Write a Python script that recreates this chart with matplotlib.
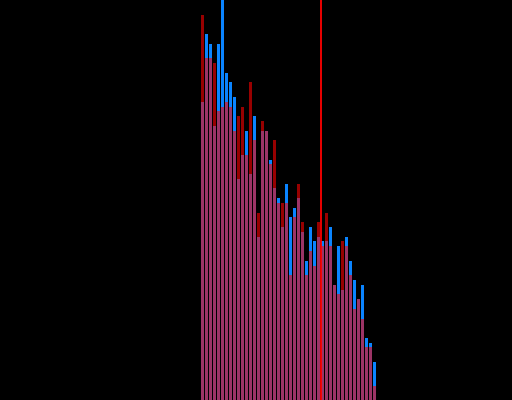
import numpy as np
import matplotlib
matplotlib.use("Agg")
import matplotlib.pyplot as plt

# bin index of each bar
bins = np.arange(44)

# heights (pixels from the bottom, top of axes = 400)
blue_counts = [298, 366, 356, 274, 356, 410, 327, 318, 303, 221,
               245, 269, 226, 284, 163, 269, 269, 240, 212, 202,
               173, 216, 183, 192, 202, 168, 139, 173, 159, 163,
               159, 159, 173, 115, 154, 110, 163, 139, 120, 101,
               115, 62, 57, 38]
red_counts = [385, 342, 342, 337, 289, 293, 298, 293, 269, 284,
              293, 245, 318, 260, 187, 279, 269, 236, 260, 197,
              197, 197, 125, 183, 216, 178, 125, 149, 134, 178,
              154, 187, 154, 115, 106, 159, 154, 125, 91, 101,
              81, 53, 53, 14]

marker_x = 30

fig = plt.figure(figsize=(5.12, 4.0), dpi=100, facecolor="black")
ax = fig.add_axes([0, 0, 1, 1])
ax.set_facecolor("black")

ax.bar(bins, blue_counts, width=0.75, align="edge", color="#0a84ff")
ax.bar(bins, red_counts, width=0.75, align="edge", color="#ff0000", alpha=0.6)
# line sits in the gap just left of bin 30
ax.axvline(marker_x - 0.125, color="#ff0000", lw=1.3)

ax.set_xlim(-50.25, 77.75)
ax.set_ylim(0, 400)
ax.axis("off")

fig.savefig("out.png", dpi=100, facecolor="black")
